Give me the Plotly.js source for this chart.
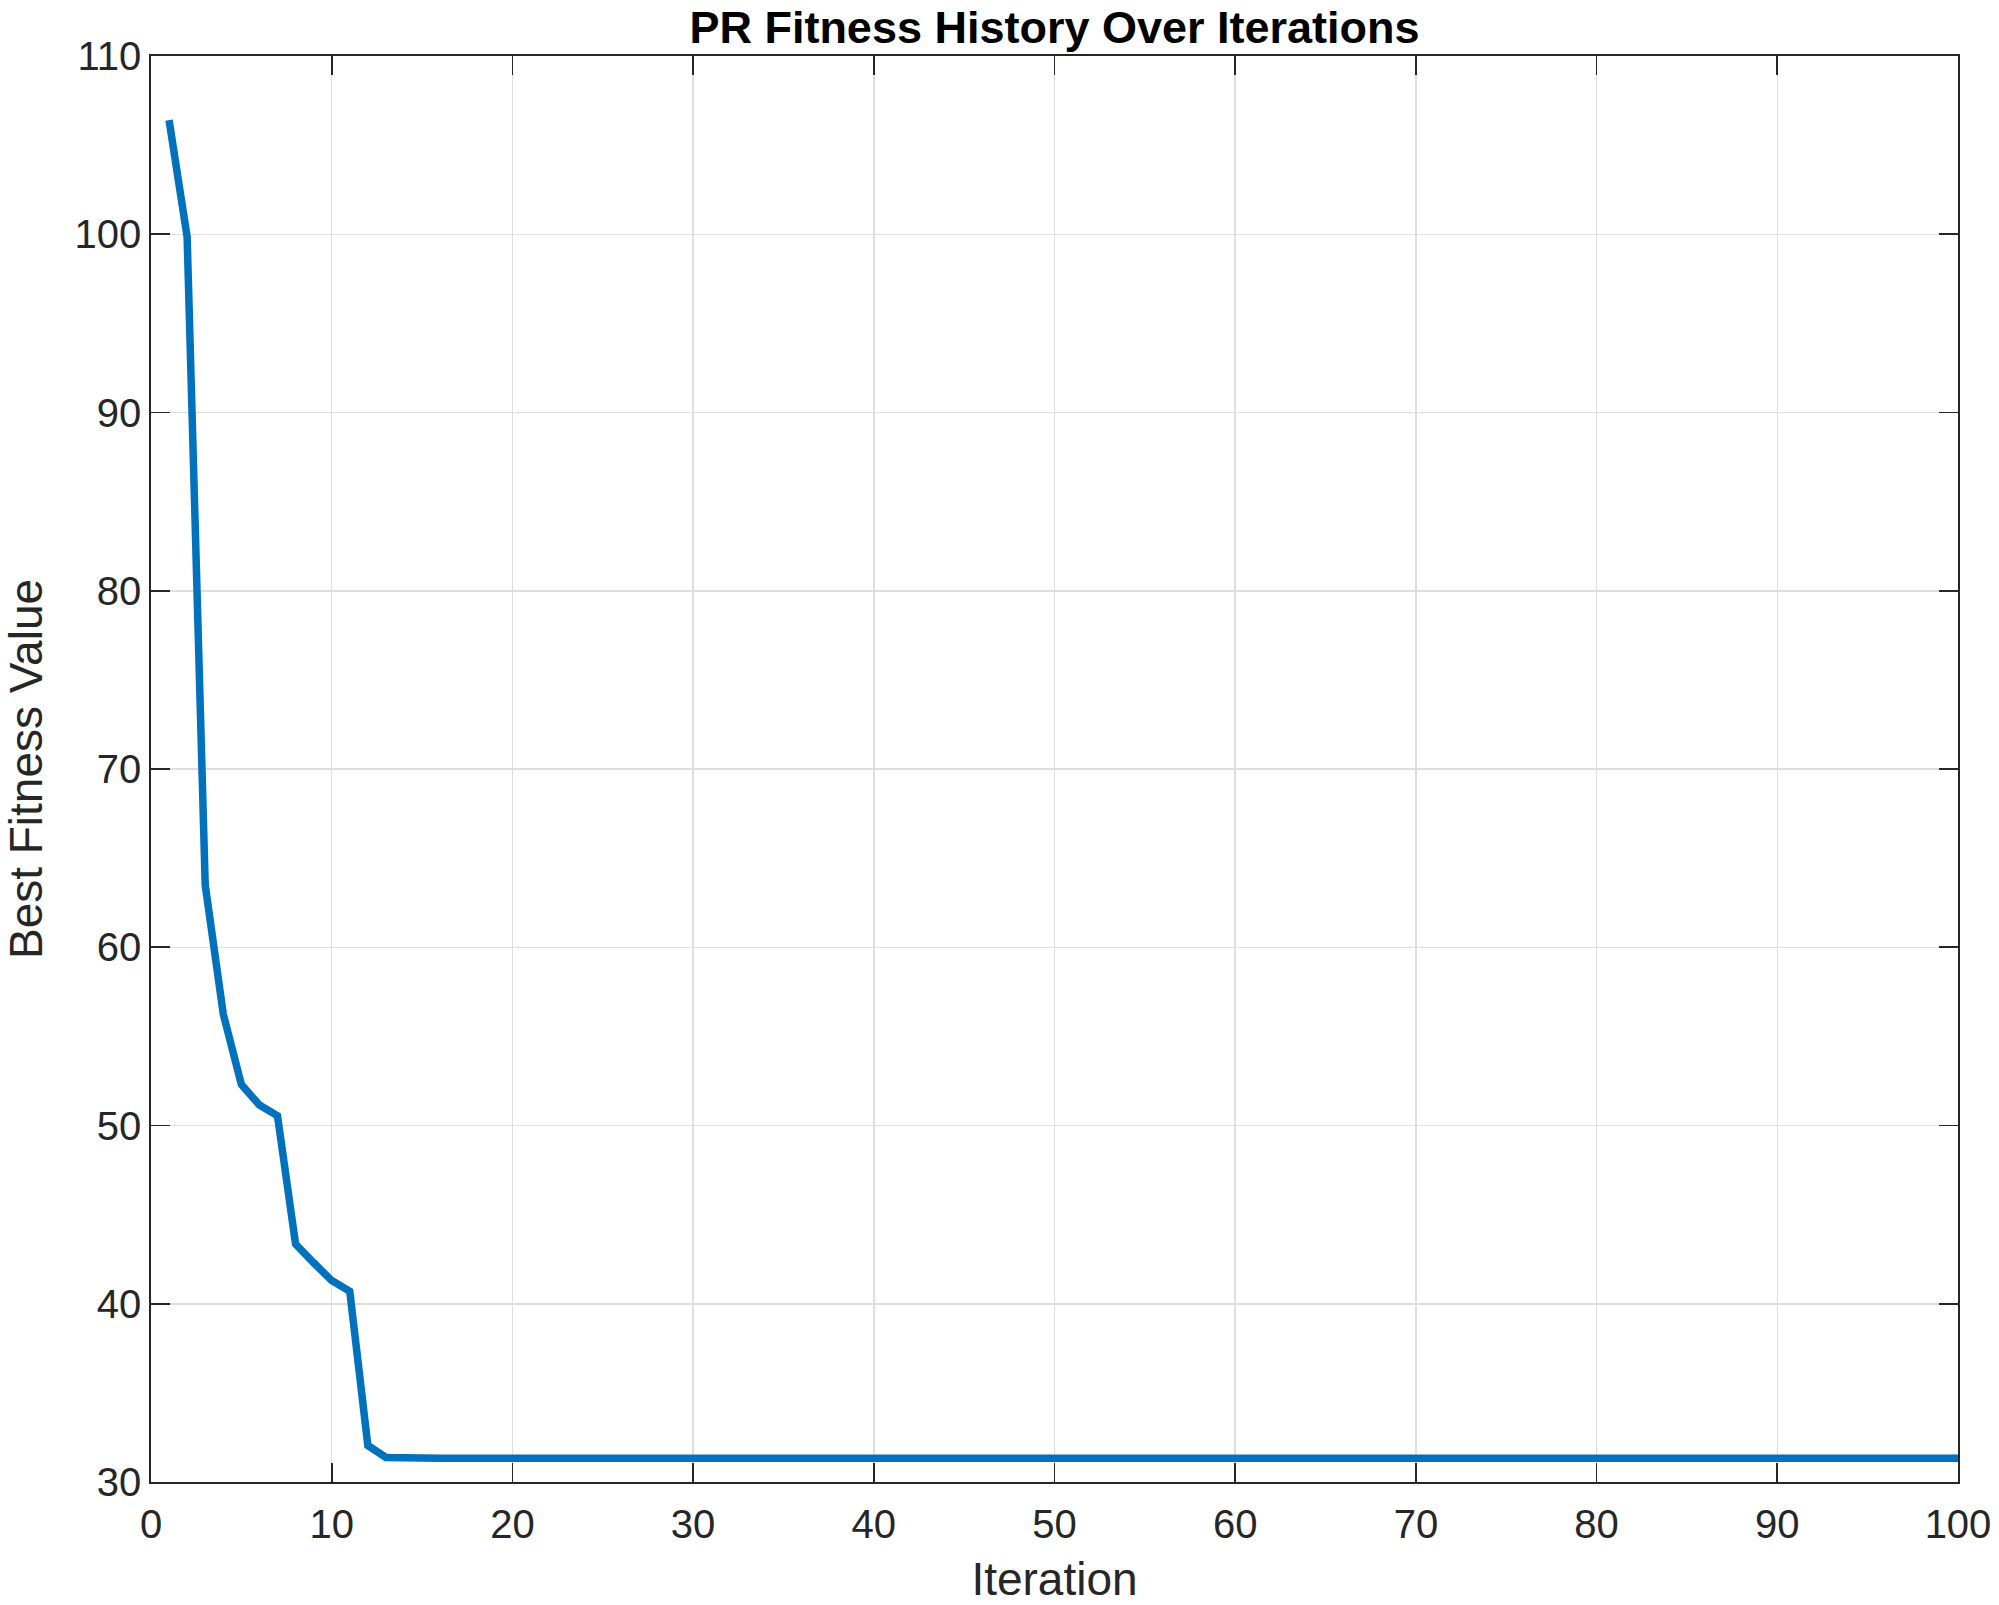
<!DOCTYPE html>
<html>
<head>
<meta charset="utf-8">
<script src="https://cdn.plot.ly/plotly-3.0.1.min.js"></script>
<style>html,body{margin:0;padding:0;background:#fff;}#chart{width:1999px;height:1605px;}</style>
</head>
<body>
<div id="chart"></div>
<script>
const iterations = [
  1,2,3,4,5,6,7,8,9,10,
  11,12,13,14,15,16,17,18,19,20,
  21,22,23,24,25,26,27,28,29,30,
  31,32,33,34,35,36,37,38,39,40,
  41,42,43,44,45,46,47,48,49,50,
  51,52,53,54,55,56,57,58,59,60,
  61,62,63,64,65,66,67,68,69,70,
  71,72,73,74,75,76,77,78,79,80,
  81,82,83,84,85,86,87,88,89,90,
  91,92,93,94,95,96,97,98,99,100
];
const bestFitness = [
  106.4,99.85,63.5,56.25,52.3,51.15,50.55,43.35,42.3,41.3,
  40.7,32.05,31.38,31.33,31.33,31.33,31.33,31.33,31.33,31.33,
  31.33,31.33,31.33,31.33,31.33,31.33,31.33,31.33,31.33,31.33,
  31.33,31.33,31.33,31.33,31.33,31.33,31.33,31.33,31.33,31.33,
  31.33,31.33,31.33,31.33,31.33,31.33,31.33,31.33,31.33,31.33,
  31.33,31.33,31.33,31.33,31.33,31.33,31.33,31.33,31.33,31.33,
  31.33,31.33,31.33,31.33,31.33,31.33,31.33,31.33,31.33,31.33,
  31.33,31.33,31.33,31.33,31.33,31.33,31.33,31.33,31.33,31.33,
  31.33,31.33,31.33,31.33,31.33,31.33,31.33,31.33,31.33,31.33,
  31.33,31.33,31.33,31.33,31.33,31.33,31.33,31.33,31.33,31.33
];
const xTickVals = [0,10,20,30,40,50,60,70,80,90,100];
const yTickVals = [30,40,50,60,70,80,90,100,110];
const titleText = "PR Fitness History Over Iterations";
const xLabel = "Iteration";
const yLabel = "Best Fitness Value";

const FONT = "Liberation Sans, Arial, Helvetica, sans-serif";
const AX = "#262626";

const trace = {
  x: iterations, y: bestFitness, type: "scatter", mode: "lines",
  line: {color: "#0072BD", width: 7.5}, hoverinfo: "skip", showlegend: false
};

const axisCommon = {
  showline: true, linecolor: AX, linewidth: 1.7, mirror: "allticks",
  ticks: "inside", ticklen: 19, tickwidth: 1.7, tickcolor: AX,
  showgrid: true, gridcolor: "#dedede", gridwidth: 1.5,
  zeroline: false, automargin: false,
  tickfont: {family: FONT, size: 40, color: AX}
};

const layout = {
  width: 1999, height: 1605,
  margin: {l: 150.5, r: 41, t: 56, b: 123, pad: 0},
  paper_bgcolor: "#fff", plot_bgcolor: "#fff",
  title: {text: "<b>" + titleText + "</b>", font: {family: FONT, size: 45, color: "#000"},
          x: 0.5, xref: "paper", y: 1 - 27/1605, yref: "container", yanchor: "middle"},
  xaxis: Object.assign({}, axisCommon, {
    range: [0, 100], tickvals: xTickVals, ticktext: xTickVals.map(String),
    ticklabelstandoff: 6,
    title: {text: xLabel, font: {family: FONT, size: 46, color: AX}, standoff: 22}
  }),
  yaxis: Object.assign({}, axisCommon, {
    range: [30, 110], tickvals: yTickVals, ticktext: yTickVals.map(String),
    title: {text: yLabel, font: {family: FONT, size: 46, color: AX}, standoff: 18}
  })
};

Plotly.newPlot("chart", [trace], layout, {staticPlot: true, displayModeBar: false});
</script>
</body>
</html>
